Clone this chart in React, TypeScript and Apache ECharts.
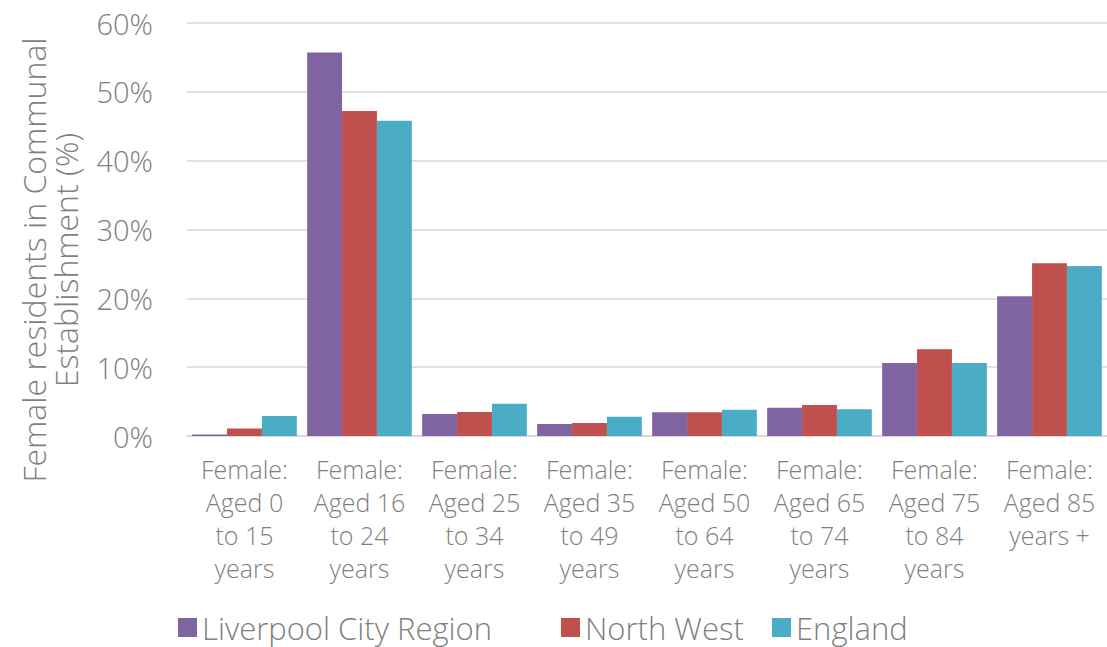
import React, { useEffect, useRef } from "react";
import * as echarts from "echarts";

const categories = [
  "Female:\nAged 0\nto 15\nyears",
  "Female:\nAged 16\nto 24\nyears",
  "Female:\nAged 25\nto 34\nyears",
  "Female:\nAged 35\nto 49\nyears",
  "Female:\nAged 50\nto 64\nyears",
  "Female:\nAged 65\nto 74\nyears",
  "Female:\nAged 75\nto 84\nyears",
  "Female:\nAged 85\nyears +",
];
const liverpool = [0.2, 55.7, 3.2, 1.75, 3.45, 4.1, 10.6, 20.3];
const northWest = [1.1, 47.2, 3.5, 1.9, 3.45, 4.5, 12.6, 25.1];
const england = [2.9, 45.8, 4.7, 2.8, 3.8, 3.9, 10.6, 24.7];
const seriesNames = ["Liverpool City Region", "North West", "England"];
const colors = ["#8064A2", "#C0504D", "#4BACC6"];
const legendLefts = [178, 561, 772];

const FONT = "'Open Sans', Lato, sans-serif";
const TXT = "#7f7f7f";
const W = 300;

export default function App() {
  const ref = useRef<HTMLDivElement>(null);
  useEffect(() => {
    if (!ref.current) return;
    const chart = echarts.init(ref.current, undefined, { renderer: "svg" });
    const data = [liverpool, northWest, england];
    chart.setOption({
      animation: false,
      textStyle: { fontFamily: FONT },
      grid: { left: 187, right: 0, top: 23, bottom: 211, containLabel: false },
      legend: seriesNames.map((name, i) => ({
        left: legendLefts[i],
        top: 612,
        padding: 0,
        itemWidth: 19,
        itemHeight: 19,
        itemGap: 0,
        icon: "rect",
        textStyle: {
          fontSize: 31,
          lineHeight: 31,
          color: TXT,
          fontFamily: FONT,
          fontWeight: W,
        },
        data: [name],
      })),
      xAxis: {
        type: "category",
        data: categories,
        axisTick: { show: false },
        axisLine: { lineStyle: { color: "#d9d9d9", width: 2 } },
        axisLabel: {
          interval: 0,
          color: TXT,
          fontSize: 25,
          lineHeight: 33,
          margin: 16,
          fontFamily: FONT,
          fontWeight: W,
        },
      },
      yAxis: {
        type: "value",
        min: 0,
        max: 60,
        interval: 10,
        axisLine: { show: false },
        axisTick: { show: false },
        splitLine: { lineStyle: { color: "#d9d9d9", width: 1.5 } },
        axisLabel: {
          formatter: "{value}%",
          color: TXT,
          fontSize: 29,
          margin: 34,
          fontFamily: FONT,
          fontWeight: W,
        },
      },
      graphic: [
        {
          type: "text",
          x: 49,
          y: 260,
          rotation: Math.PI / 2,
          style: {
            text: "Female residents in Communal\nEstablishment (%)",
            fill: TXT,
            fontSize: 32,
            lineHeight: 32,
            fontFamily: FONT,
            fontWeight: W,
            align: "center",
            verticalAlign: "middle",
          },
        },
      ],
      series: seriesNames.map((name, i) => ({
        name,
        type: "bar",
        data: data[i],
        barGap: "0%",
        barCategoryGap: "9%",
        itemStyle: { color: colors[i] },
      })),
    });
    return () => chart.dispose();
  }, []);
  return (
    <div
      ref={ref}
      style={{ position: "absolute", left: 0, top: 0, width: 1107, height: 647 }}
    />
  );
}
